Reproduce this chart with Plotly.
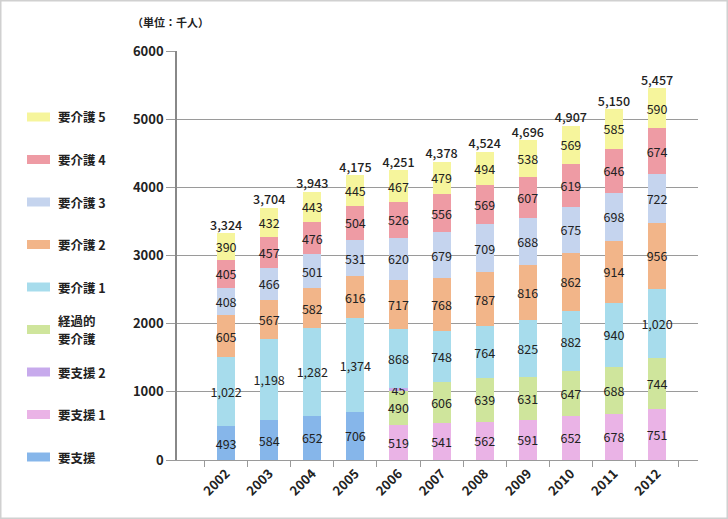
import plotly.graph_objects as go

years = ["2002", "2003", "2004", "2005", "2006", "2007", "2008", "2009", "2010", "2011", "2012"]

# series (bottom to top in stack)
s_shien = [493, 584, 652, 706, None, None, None, None, None, None, None]
s_shien1 = [None, None, None, None, 519, 541, 562, 591, 652, 678, 751]
s_keika = [None, None, None, None, 490, 606, 639, 631, 647, 688, 744]
s_shien2 = [None, None, None, None, 45, None, None, None, None, None, None]
s_kaigo1 = [1022, 1198, 1282, 1374, 868, 748, 764, 825, 882, 940, 1020]
s_kaigo2 = [605, 567, 582, 616, 717, 768, 787, 816, 862, 914, 956]
s_kaigo3 = [408, 466, 501, 531, 620, 679, 709, 688, 675, 698, 722]
s_kaigo4 = [405, 457, 476, 504, 526, 556, 569, 607, 619, 646, 674]
s_kaigo5 = [390, 432, 443, 445, 467, 479, 494, 538, 569, 585, 590]
totals = [3324, 3704, 3943, 4175, 4251, 4378, 4524, 4696, 4907, 5150, 5457]

series_names = ["要支援", "要支援 1", "経過的要介護", "要支援 2", "要介護 1",
                "要介護 2", "要介護 3", "要介護 4", "要介護 5"]
series_values = [s_shien, s_shien1, s_keika, s_shien2, s_kaigo1,
                 s_kaigo2, s_kaigo3, s_kaigo4, s_kaigo5]
series_colors = ["#86b6ea", "#eab3e6", "#cfe59c", "#c7aaec", "#a7dcec",
                 "#f2b589", "#c5d4ee", "#ee9ba4", "#f6f59c"]

# legend order (top to bottom)
legend_names = ["要介護 5", "要介護 4", "要介護 3", "要介護 2", "要介護 1",
                "経過的\n要介護", "要支援 2", "要支援 1", "要支援"]
legend_colors = ["#f6f59c", "#ee9ba4", "#c5d4ee", "#f2b589", "#a7dcec",
                 "#cfe59c", "#c7aaec", "#eab3e6", "#86b6ea"]

FONT = "Noto Sans CJK JP"
TXT = "#222222"
GRID = "#9a9a9a"

fig = go.Figure()
for name, vals, col in zip(series_names, series_values, series_colors):
    fig.add_trace(go.Bar(
        x=years, y=vals, name=name, marker=dict(color=col, line=dict(width=0)),
        width=0.42,
        texttemplate="%{y:,}", textposition="inside", insidetextanchor="middle",
        constraintext="none", textangle=0,
        insidetextfont=dict(family=FONT, size=12.5, color=TXT),
        showlegend=False, hoverinfo="skip",
    ))

fig.add_trace(go.Scatter(
    x=years, y=totals, mode="text",
    text=[f"{v:,}" for v in totals], textposition="top center",
    textfont=dict(family=FONT, size=12.5, color=TXT, weight=500),
    showlegend=False, cliponaxis=False, hoverinfo="skip",
))

# plot area in pixels
L, R, T, B = 177, 698, 51, 460
W, H = R - L, B - T

def px_x(px):
    return (px - L) / W

def px_y(py):
    return (B - py) / H

shapes = []
annotations = []
for i, (nm, col) in enumerate(zip(legend_names, legend_colors)):
    yc = 117 + i * 42.5
    shapes.append(dict(type="rect", xref="paper", yref="paper",
                       x0=px_x(27), x1=px_x(50), y0=px_y(yc + 4.5), y1=px_y(yc - 4.5),
                       fillcolor=col, line=dict(width=0), layer="above"))
    lines = nm.split("\n")
    n = len(lines)
    for j, ln in enumerate(lines):
        ly = yc + (j - (n - 1) / 2) * 18
        annotations.append(dict(xref="paper", yref="paper", x=px_x(57), y=px_y(ly),
                                text=ln, showarrow=False, xanchor="left",
                                yanchor="middle", align="left", borderpad=0,
                                font=dict(family=FONT, size=12.5, color=TXT,
                                          weight="bold")))

annotations.append(dict(xref="paper", yref="paper", x=px_x(130), y=px_y(22),
                        text="（単位：千人）", showarrow=False, xanchor="left",
                        yanchor="middle",
                        font=dict(family=FONT, size=11, color=TXT, weight="bold")))

# outer frame
shapes.append(dict(type="rect", xref="paper", yref="paper",
                   x0=px_x(0.75), x1=px_x(727.25), y0=px_y(518.25), y1=px_y(0.75),
                   line=dict(color="#d0d0d0", width=1.5), fillcolor="rgba(0,0,0,0)"))

fig.update_layout(
    width=728, height=519,
    margin=dict(l=L, r=728 - R, t=T, b=519 - B),
    paper_bgcolor="white", plot_bgcolor="white",
    barmode="stack",
    font=dict(family=FONT, color=TXT),
    shapes=shapes, annotations=annotations,
    xaxis=dict(type="category", range=[-1.14, 10.95], tickson="boundaries",
               ticks="outside", ticklen=6, tickcolor=GRID, tickwidth=1,
               showline=True, linecolor=GRID, linewidth=1,
               showgrid=False, tickangle=-45, automargin=False,
               tickfont=dict(family=FONT, size=13, color=TXT, weight="bold")),
    yaxis=dict(range=[0, 6000], dtick=1000, showgrid=True, gridcolor=GRID,
               gridwidth=1, zeroline=False, showline=True, linecolor="#888888",
               linewidth=1.5, ticks="outside", ticklen=9, tickcolor=GRID,
               automargin=False,
               tickfont=dict(family=FONT, size=13, color=TXT, weight="bold")),
)

fig.write_html("out.html", config={"displayModeBar": False},
               post_script="document.body.style.margin='0';document.body.style.overflow='hidden';")
